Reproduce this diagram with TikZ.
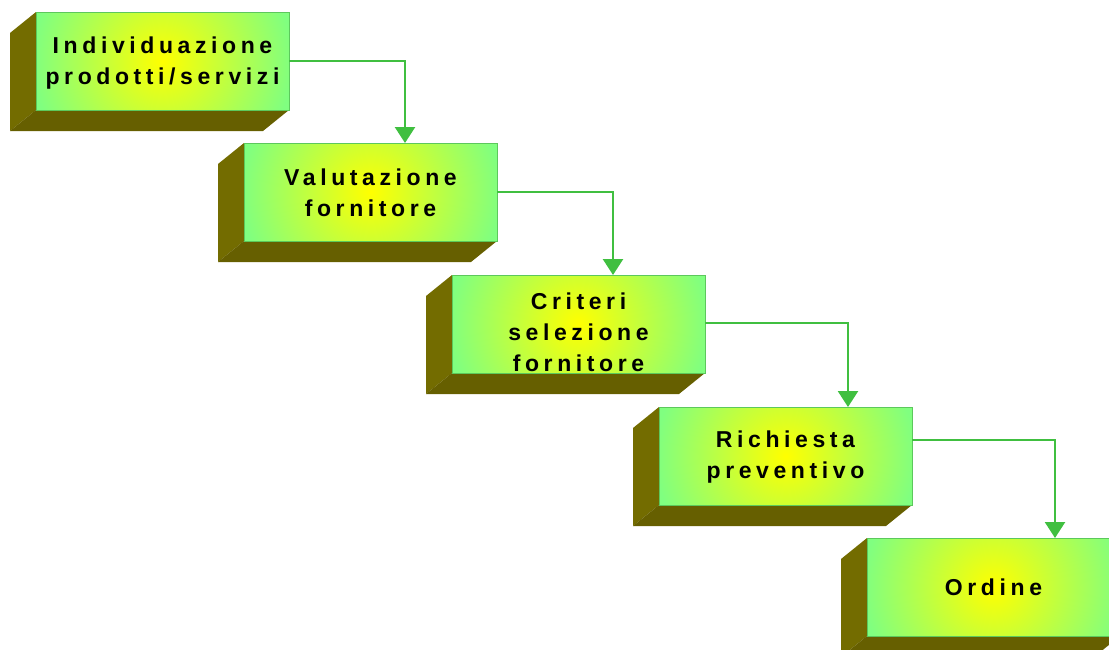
\documentclass[tikz,border=0pt]{standalone}
\usepackage{fontspec}
\setmainfont{Liberation Sans}
\usetikzlibrary{arrows.meta,backgrounds}

\definecolor{faceyellow}{HTML}{FFFF00}
\definecolor{facegreen}{HTML}{80FF80}
\definecolor{faceedge}{HTML}{5CC85C}
\definecolor{sideleft}{HTML}{736C00}
\definecolor{sidebottom}{HTML}{665F00}
\definecolor{flowgreen}{HTML}{40BF40}

\tikzset{
  stepface/.style={rectangle, draw=faceedge, line width=0.8pt,
    inner sep=0pt, outer sep=0pt, minimum width=253pt, minimum height=98pt,
    path picture={
      \fill[facegreen] (path picture bounding box.south west)
        rectangle (path picture bounding box.north east);
      \shade[inner color=faceyellow, outer color=facegreen]
        (path picture bounding box.center) circle (130pt);}},
  steptext/.style={align=center, inner sep=0pt,
    font=\fontsize{23}{31}\selectfont\bfseries\addfontfeature{LetterSpace=20}},
  flow/.style={draw=flowgreen, line width=2.5pt,
    -{Triangle[width=20pt,length=16pt]}}
}

% olive depth faces on the left and bottom of a step box
\newcommand\stepdepth[1]{%
  \fill[sideleft] (#1.north west) -- ++(-26pt,-21pt)
    -- ([shift={(-26pt,-21pt)}]#1.south west) -- (#1.south west) -- cycle;
  \fill[sidebottom] (#1.south west) -- (#1.south east) -- ++(-26pt,-21pt)
    -- ([shift={(-26pt,-21pt)}]#1.south west) -- cycle;
}

\begin{document}
\begin{tikzpicture}[x=1pt, y=-1pt]
  \useasboundingbox (0,0) rectangle (1109,649);
  \clip (0,0) rectangle (1109,649);

  % front faces
  \node[stepface] (b1) at (162.5,61) {};
  \node[stepface] (b2) at (370.5,192) {};
  \node[stepface] (b3) at (578.5,324) {};
  \node[stepface] (b4) at (785.5,456) {};
  \node[stepface] (b5) at (993.5,587) {};

  \begin{scope}[on background layer]
    \stepdepth{b1}
    \stepdepth{b2}
    \stepdepth{b3}
    \stepdepth{b4}
    \stepdepth{b5}
  \end{scope}

  % labels
  \node[steptext] (t1) at ([yshift=-2pt]b1.center) {Individuazione\\prodotti/servizi};
  \node[steptext] (t2) at ([yshift=-1pt]b2.center) {Valutazione\\fornitore};
  \node[steptext] (t3) at ([yshift=-8pt]b3.center) {Criteri\\selezione\\fornitore};
  \node[steptext] (t4) at ([yshift=-1pt]b4.center) {Richiesta\\preventivo};
  \node[steptext] (t5) at (b5.center) {Ordine};

  % flow connectors
  \draw[flow] ([yshift=-49pt]b1.north east) -| ([xshift=161pt]b2.north west);
  \draw[flow] ([yshift=-49pt]b2.north east) -| ([xshift=161pt]b3.north west);
  \draw[flow] ([yshift=-48pt]b3.north east) -| ([xshift=189pt]b4.north west);
  \draw[flow] ([yshift=-33pt]b4.north east) -| ([xshift=188pt]b5.north west);
\end{tikzpicture}
\end{document}
